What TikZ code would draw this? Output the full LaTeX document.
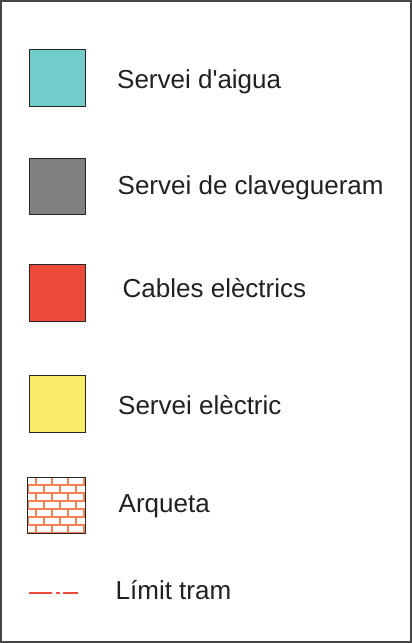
\documentclass[tikz,border=0pt]{standalone}
\usepackage{fontspec}
\setmainfont{Liberation Sans}[Ligatures=TeXOff]
\definecolor{txt}{RGB}{35,31,32}
\definecolor{aigua}{RGB}{114,204,201}
\definecolor{clav}{RGB}{128,128,128}
\definecolor{cables}{RGB}{238,74,57}
\definecolor{elec}{RGB}{249,234,104}
\definecolor{brick}{RGB}{245,130,85}
\definecolor{frame}{RGB}{70,70,70}
\begin{document}
\begin{tikzpicture}[x=1pt,y=-1pt,
  swatch/.style={draw=black!85,line width=1pt},
  lab/.style={anchor=base west,inner sep=0pt,text=txt,font=\fontsize{26}{30}\selectfont}]
\useasboundingbox (0,0) rectangle (412,643);
\draw[frame,line width=1.6pt] (0.8,0.8) rectangle (411.2,642.2);
% swatches
\path[swatch,fill=aigua] (29,49) rectangle (85,106);
\path[swatch,fill=clav] (29,158) rectangle (85,214);
\path[swatch,fill=cables] (29,264) rectangle (85,321);
\path[swatch,fill=elec] (29,375) rectangle (85,432);
% arqueta brick pattern
\begin{scope}
\clip (27,477) rectangle (85,533);
\fill[white] (27,477) rectangle (85,533);
\foreach \r in {0,...,6} {
  \pgfmathsetmacro{\ya}{477+\r*8}
  \pgfmathsetmacro{\yb}{477+(\r+1)*8}
  \draw[brick,line width=1.6pt] (27,\yb) -- (85,\yb);
  \pgfmathsetmacro{\off}{mod(\r,2)==0 ? 35.7 : 43.7}
  \foreach \k in {-1,0,1,2,3} {
    \pgfmathsetmacro{\xx}{\off+\k*16}
    \draw[brick,line width=1.6pt] (\xx,\ya) -- (\xx,\yb);
  }
}
\end{scope}
\path[swatch] (27,477) rectangle (85,533);
% limit tram line
\coordinate (l1) at (29,593);
\coordinate (l2) at (52,593);
\coordinate (l3) at (56,593);
\coordinate (l4) at (60,593);
\coordinate (l5) at (63,593);
\coordinate (l6) at (78,593);
\draw[cables,line width=1.4pt] (l1) -- (l2) (l3) -- (l4) (l5) -- (l6);
% labels
\node[lab] (t1) at (117,88.7) {Servei d'aigua};
\node[lab] (t2) at (117.5,194.7) {Servei de clavegueram};
\node[lab] (t3) at (122.5,297.7) {Cables elèctrics};
\node[lab] (t4) at (118,414.7) {Servei elèctric};
\node[lab] (t5) at (118.5,512) {Arqueta};
\node[lab] (t6) at (115.5,599.7) {Límit tram};
\end{tikzpicture}
\end{document}
